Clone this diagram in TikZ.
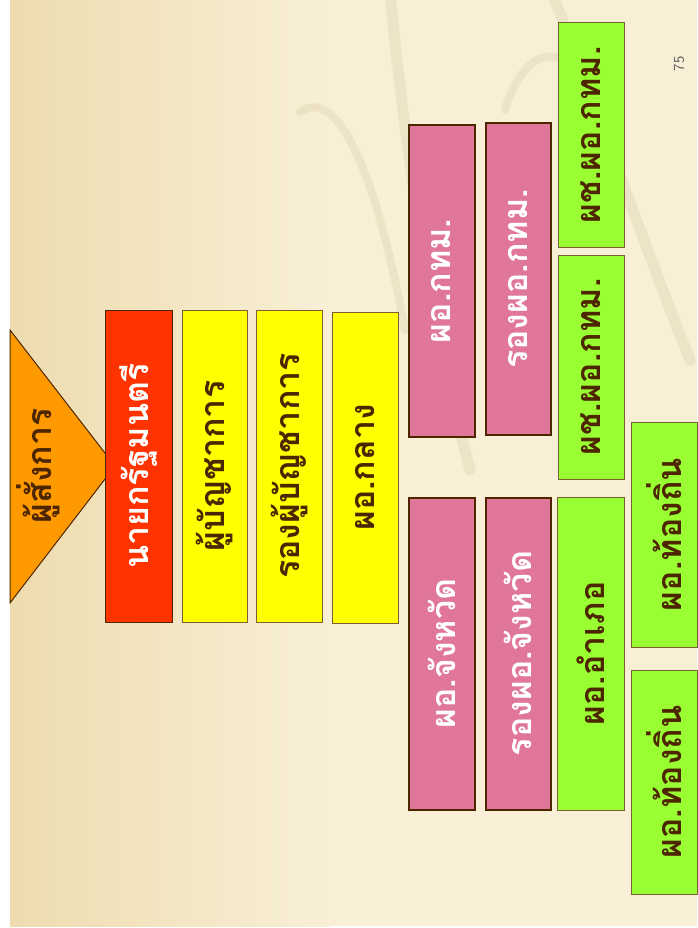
\documentclass[tikz,border=0pt]{standalone}
\usepackage{fontspec}
\newfontfamily\thaifont[Script=Thai]{Loma}
\definecolor{bgleft}{HTML}{EEDCAF}
\definecolor{bgright}{HTML}{F8EFD6}
\definecolor{swirlcol}{HTML}{E3D8B8}
\definecolor{cmdorange}{HTML}{FF9900}
\definecolor{pmred}{HTML}{FF3300}
\definecolor{hqyellow}{HTML}{FFFF00}
\definecolor{bkkpink}{HTML}{E0779B}
\definecolor{locgreen}{HTML}{99FF33}
\definecolor{darkline}{HTML}{4D2600}
\definecolor{thinline}{HTML}{7A6030}
\definecolor{textbrown}{HTML}{4D2600}
\begin{document}
\begin{tikzpicture}[x=1pt,y=-1pt,
	box/.style={rotate=90, inner sep=0pt, font=\thaifont\bfseries\fontsize{34}{36}\selectfont},
	redbox/.style={box, draw=darkline, line width=1pt, fill=pmred, text=white},
	yellowbox/.style={box, draw=thinline, line width=1pt, fill=hqyellow, text=textbrown},
	pinkbox/.style={box, draw=darkline, line width=2pt, fill=bkkpink, text=white},
	greenbox/.style={box, draw=thinline, line width=1pt, fill=locgreen, text=textbrown},
	swirl/.style={draw=swirlcol, line width=11pt, line cap=round, opacity=0.5}]
	\useasboundingbox (0,0) rectangle (697,928);
	\fill[white] (0,0) rectangle (697,928);
	\shade[left color=bgleft, right color=bgright] (10,0) rectangle (330,926);
	\fill[bgright] (330,0) rectangle (697,926);
	% background swirls
	\draw[swirl] (390,-5) .. controls (405,140) and (425,300) .. (470,470);
	\draw[swirl, line width=8pt] (300,112) .. controls (330,90) and (370,140) .. (405,330);
	\draw[swirl] (553,-5) .. controls (600,120) and (650,260) .. (690,360);
	\draw[swirl, line width=8pt] (505,110) .. controls (520,60) and (545,50) .. (565,60);
	% commander
	\coordinate (t1) at (10,330);
	\coordinate (t2) at (10,603);
	\coordinate (t3) at (115,466);
	\draw[draw=darkline, line width=1pt, fill=cmdorange] (t1) -- (t3) -- (t2) -- cycle;
	\node (cmd) at (38,466) [box, text=textbrown] {ผู้สั่งการ};
	% central level
	\node (pm) at (138.5,466) [redbox, minimum width=312, minimum height=67] {นายกรัฐมนตรี};
	\node (chief) at (214.5,466) [yellowbox, minimum width=312, minimum height=65] {ผู้บัญชาการ};
	\node (dchief) at (289,466) [yellowbox, minimum width=312, minimum height=66] {รองผู้บัญชาการ};
	\node (central) at (365,467.5) [yellowbox, minimum width=311, minimum height=66] {ผอ.กลาง};
	% bangkok
	\node (bkk) at (441.5,281) [pinkbox, minimum width=311, minimum height=66] {ผอ.กทม.};
	\node (dbkk) at (518,279) [pinkbox, minimum width=311, minimum height=65] {รองผอ.กทม.};
	\node (abkk1) at (591,135) [greenbox, minimum width=224, minimum height=66] {ผช.ผอ.กทม.};
	\node (abkk2) at (591,367) [greenbox, minimum width=224, minimum height=66] {ผช.ผอ.กทม.};
	% provinces
	\node (prov) at (441.5,653.5) [pinkbox, minimum width=312, minimum height=66] {ผอ.จังหวัด};
	\node (dprov) at (518,653.5) [pinkbox, minimum width=312, minimum height=65] {รองผอ.จังหวัด};
	\node (dist) at (590.5,653.5) [greenbox, minimum width=313, minimum height=67] {ผอ.อำเภอ};
	\node (local1) at (664,534.5) [greenbox, minimum width=225, minimum height=66] {ผอ.ท้องถิ่น};
	\node (local2) at (664,782) [greenbox, minimum width=224, minimum height=66] {ผอ.ท้องถิ่น};
	% page number
	\node (page) at (679,64) [rotate=90, text=black!65, font=\sffamily\fontsize{15}{15}\selectfont] {75};
\end{tikzpicture}
\end{document}
